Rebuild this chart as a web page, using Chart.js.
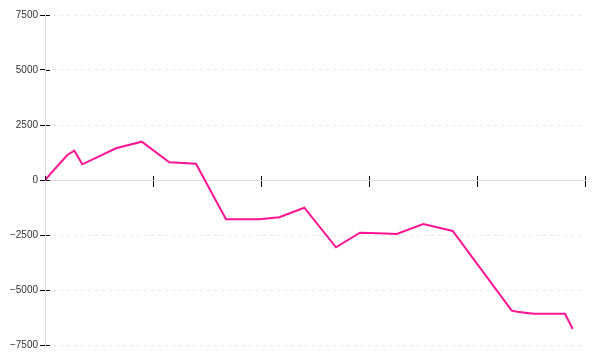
<!DOCTYPE html>
<html>
<head>
<meta charset="utf-8">
<script src="https://cdn.jsdelivr.net/npm/chart.js"></script>
<style>
    html, body { margin: 0; padding: 0; background: #fff; }
    #wrap { width: 600px; height: 360px; }
</style>
</head>
<body>
<div id="wrap"><canvas id="chart"></canvas></div>
<script>
// Data
const xValues = [0, 4.13, 5.43, 6.91, 13.15, 17.91, 23.02, 27.96, 33.52, 39.69, 43.39, 48.02,
    53.89, 58.33, 61.72, 65.13, 70.06, 75.5, 86.43, 87.46, 88.89, 90.56, 96.3, 97.72];
const yValues = [0, 1136, 1332, 713, 1441, 1741, 805, 741, -1786, -1786, -1695, -1259,
    -3059, -2395, -2424, -2454, -2000, -2318, -5940, -5985, -6030, -6077, -6077, -6773];
const yTicks = [-7500, -5000, -2500, 0, 2500, 5000, 7500];

const points = xValues.map((x, i) => ({ x: x, y: yValues[i] }));

Chart.defaults.font.family = "'Liberation Sans', Arial, sans-serif";
Chart.defaults.font.size = 10;
Chart.defaults.color = '#333';

// Small inward stubs of the tick marks (ticks cross the axis lines)
const innerTicks = {
    id: 'innerTicks',
    afterDraw(chart) {
        const { ctx, scales: { x, y } } = chart;
        ctx.save();
        ctx.strokeStyle = '#000';
        ctx.lineWidth = 1;
        ctx.beginPath();
        y.ticks.forEach(t => {
            const py = Math.round(y.getPixelForValue(t.value)) + 0.5;
            ctx.moveTo(y.right + 1, py);
            ctx.lineTo(y.right + 5, py);
        });
        const axisY = y.getPixelForValue(0);
        x.ticks.forEach(t => {
            const px = Math.round(x.getPixelForValue(t.value)) + 0.5;
            ctx.moveTo(px, axisY - 4);
            ctx.lineTo(px, axisY);
        });
        ctx.stroke();
        ctx.restore();
    }
};

new Chart(document.getElementById('chart'), {
    type: 'line',
    data: {
        datasets: [{
            data: points,
            borderColor: '#ff1493',
            borderWidth: 2,
            pointRadius: 0,
            tension: 0,
            fill: false
        }]
    },
    options: {
        responsive: true,
        maintainAspectRatio: false,
        animation: false,
        layout: { padding: { top: 15, right: 15, bottom: 15, left: 0 } },
        plugins: {
            legend: { display: false },
            tooltip: { enabled: false }
        },
        scales: {
            x: {
                type: 'linear',
                position: { y: 0 },
                min: 0,
                max: 100,
                ticks: { stepSize: 20, display: false },
                grid: {
                    drawOnChartArea: false,
                    tickColor: '#000',
                    tickLength: 6
                },
                border: { color: '#ddd' }
            },
            y: {
                min: -7500,
                max: 7500,
                afterBuildTicks: s => { s.ticks = yTicks.map(v => ({ value: v })); },
                afterFit: s => { s.width = 45; },
                ticks: {
                    padding: 2,
                    callback: v => String(v).replace('-', '\u2212')
                },
                grid: {
                    color: ctx => ctx.tick && ctx.tick.value === 0 ? '#ddd' : '#e8e8e8',
                    tickColor: '#000',
                    tickLength: 5,
                    tickBorderDash: []
                },
                border: { color: '#ddd', dash: [3, 4] }
            }
        }
    },
    plugins: [innerTicks]
});
</script>
</body>
</html>
